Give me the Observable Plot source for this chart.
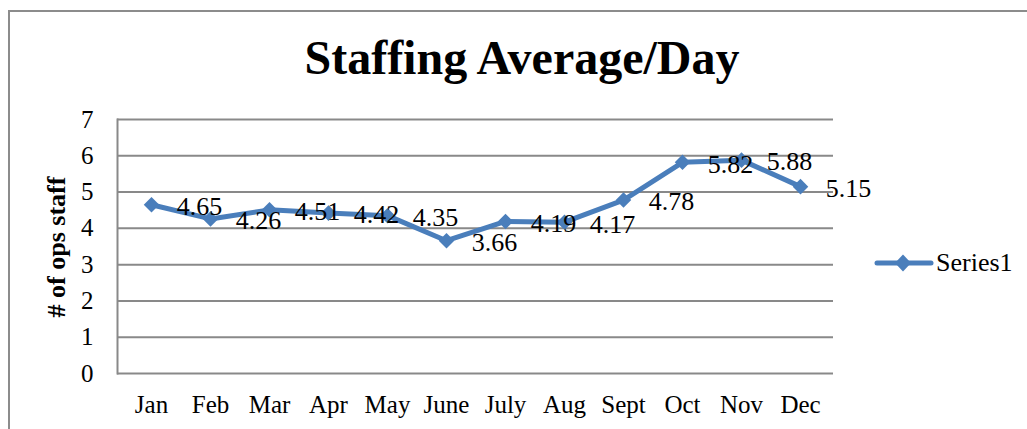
<!DOCTYPE html>
<html>
<head>
<meta charset="utf-8">
<script src="https://cdn.jsdelivr.net/npm/d3@7"></script>
<script src="https://cdn.jsdelivr.net/npm/@observablehq/plot@0.6"></script>
<style>
  html, body { margin: 0; padding: 0; background: #fff; }
  #wrap { position: relative; width: 1027px; height: 429px; overflow: hidden; font-family: "Liberation Serif", "Times New Roman", serif; color: #000; }
  #border { position: absolute; left: 8px; top: 10px; width: 1100px; height: 500px; border: 2px solid #8c8c8c; box-sizing: border-box; }
  #title { position: absolute; left: 0; width: 1044px; top: 28px; text-align: center; font-weight: bold; font-size: 48px; line-height: 60px; white-space: nowrap; }
  #ylab { position: absolute; left: 57px; top: 247px; transform: translate(-50%, -50%) rotate(-90deg); font-weight: bold; font-size: 26px; white-space: nowrap; }
  #chart { position: absolute; left: 0; top: 0; }
  #chart svg text { font-family: "Liberation Serif", "Times New Roman", serif !important; }
  #legend { position: absolute; left: 874px; top: 247px; display: flex; align-items: center; font-size: 26px; }
  #legend span { margin-left: 2px; }
</style>
</head>
<body>
<div id="wrap">
  <div id="border"></div>
  <div id="chart"></div>
  <div id="title">Staffing Average/Day</div>
  <div id="ylab"># of ops staff</div>
  <div id="legend">
    <svg width="60" height="32"><line x1="3" y1="16" x2="57" y2="16" stroke="#4a7ebb" stroke-width="5" stroke-linecap="round"/><path d="M29,7.5L37,16L29,24.5L21,16Z" fill="#4a7ebb"/></svg>
    <span>Series1</span>
  </div>
</div>
<script>
const months = ["Jan","Feb","Mar","Apr","May","June","July","Aug","Sept","Oct","Nov","Dec"];
const values = [4.65, 4.26, 4.51, 4.42, 4.35, 3.66, 4.19, 4.17, 4.78, 5.82, 5.88, 5.15];
const yTicks = [0, 1, 2, 3, 4, 5, 6, 7];

const data = months.map((m, i) => ({month: m, value: values[i]}));
const serif = "'Liberation Serif', 'Times New Roman', serif";

const chart = Plot.plot({
  width: 1027,
  height: 429,
  marginLeft: 117,
  marginRight: 194,
  marginTop: 119,
  marginBottom: 56,
  style: {fontFamily: serif, fontSize: "25px", color: "#000", background: "transparent", overflow: "visible"},
  x: {type: "point", domain: months, padding: 0.5},
  y: {domain: [0, 7]},
  marks: [
    Plot.gridY(yTicks, {stroke: "#898989", strokeOpacity: 1, strokeWidth: 2}),
    Plot.frame({anchor: "left", stroke: "#898989", strokeWidth: 2}),
    Plot.axisY(yTicks, {tickSize: 0, tickPadding: 24, fontSize: 25, fontFamily: serif, label: null}),
    Plot.axisX({tickSize: 0, tickPadding: 22, fontSize: 25, fontFamily: serif, label: null}),
    Plot.lineY(data, {x: "month", y: "value", stroke: "#4a7ebb", strokeWidth: 5, strokeLinejoin: "round"}),
    Plot.dot(data, {x: "month", y: "value", symbol: "diamond2", r: 7, fill: "#4a7ebb"}),
    Plot.text(data, {x: "month", y: "value", text: d => d.value.toFixed(2), dx: 48, dy: 2, fontSize: 26, fontFamily: serif, fill: "#000"})
  ]
});
document.getElementById("chart").appendChild(chart);
</script>
</body>
</html>
